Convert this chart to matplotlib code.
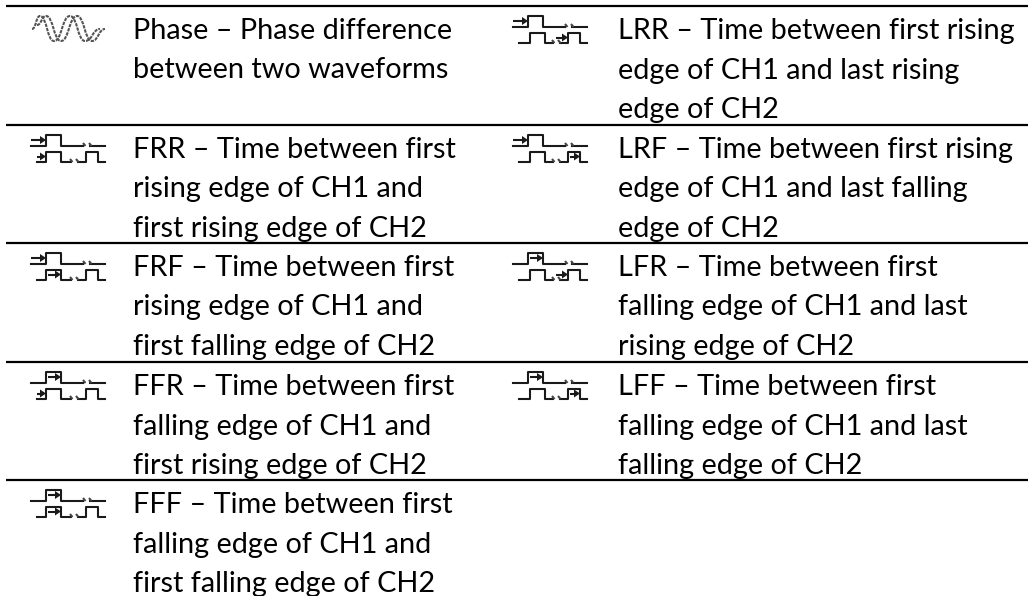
import matplotlib
matplotlib.use("Agg")
import matplotlib.pyplot as plt
from matplotlib.patches import PathPatch, Polygon
from matplotlib.path import Path

# rows of the table, one list per column
venstre_navn = ["Phase", "FRR", "FRF", "FFR", "FFF"]
venstre_tekst = [
    ["Phase – Phase difference", "between two waveforms"],
    ["FRR – Time between first", "rising edge of CH1 and", "first rising edge of CH2"],
    ["FRF – Time between first", "rising edge of CH1 and", "first falling edge of CH2"],
    ["FFR – Time between first", "falling edge of CH1 and", "first rising edge of CH2"],
    ["FFF – Time between first", "falling edge of CH1 and", "first falling edge of CH2"],
]
hoyre_navn = ["LRR", "LRF", "LFR", "LFF"]
hoyre_tekst = [
    ["LRR – Time between first rising", "edge of CH1 and last rising", "edge of CH2"],
    ["LRF – Time between first rising", "edge of CH1 and last falling", "edge of CH2"],
    ["LFR – Time between first", "falling edge of CH1 and last", "rising edge of CH2"],
    ["LFF – Time between first", "falling edge of CH1 and last", "falling edge of CH2"],
]
rad_topp = [6, 125, 243, 362]
skille_y = [6, 125, 243, 362, 480]

FARGE = "#1a1a1a"
STR = 20.8
LW = 1.5

fig = plt.figure(figsize=(10.28, 5.96), dpi=100)
ax = fig.add_axes([0, 0, 1, 1])
ax.set_xlim(0, 1028)
ax.set_ylim(596, 0)
ax.axis("off")


def pil(x0, x1, y):
    # liten pil som peker mot en flanke
    ax.plot([x0, x1 - 3], [y, y], color=FARGE, lw=LW, solid_capstyle="butt")
    ax.add_patch(Polygon([(x1 - 6, y - 4), (x1, y), (x1 - 6, y + 4)], color=FARGE, lw=0))


def brudd(x, y):
    # to korte streker der signalet er brutt
    for dx in (0, 6):
        ax.plot([x + dx, x + dx + 2.5], [y - 2.5, y + 0.5], color="#444444", lw=LW, solid_capstyle="butt")


def ikon(x, y, navn):
    siste = navn[0] == "L"
    # CH1, ovre signal
    top = [(0, 11), (15, 11), (15, 0), (30, 0), (30, 11), (52, 11)]
    ax.plot([x + a for a, b in top], [y + b for a, b in top], color=FARGE, lw=LW)
    ax.plot([x + 59, x + 74], [y + 11, y + 11], color=FARGE, lw=LW)
    brudd(x + 52, y + 11)
    # CH2, nedre signal
    d = 2 if siste else 0
    x_start = 6
    bunn = [(x_start, 27), (15 + d, 27), (15 + d, 17), (30 + d, 17), (30 + d, 27), (40, 27)]
    ax.plot([x + a for a, b in bunn], [y + b for a, b in bunn], color=FARGE, lw=LW)
    bunn2 = [(47, 27), (55, 27), (55, 17), (67, 17), (67, 27), (74, 27)]
    ax.plot([x + a for a, b in bunn2], [y + b for a, b in bunn2], color=FARGE, lw=LW)
    brudd(x + 39, y + 27)
    # piler for kantene
    if navn[1] == "R":
        pil(x, x + 15, y + 5.5)
    else:
        pil(x + 17, x + 30, y + 5.5)
    if siste:
        if navn[2] == "R":
            pil(x + 43, x + 55, y + 22)
        else:
            pil(x + 57, x + 67, y + 22)
    else:
        if navn[2] == "R":
            pil(x + 6, x + 15, y + 22)
        else:
            pil(x + 17, x + 30, y + 22)


def bolge(ekstrem):
    # myk kurve gjennom topper og bunner
    v = [Path.MOVETO]
    p = [ekstrem[0]]
    for (x0, y0), (x1, y1) in zip(ekstrem, ekstrem[1:]):
        m = (x0 + x1) / 2
        p += [(m, y0), (m, y1), (x1, y1)]
        v += [Path.CURVE4] * 3
    ax.add_patch(PathPatch(Path(p, v), fill=False, edgecolor="#555555", lw=1.5, linestyle=(0, (1.6, 0.5))))


bolge([(32, 29), (40, 16), (54, 41), (70, 16), (85, 41), (100, 29)])
bolge([(37, 25), (46, 16), (61, 41), (77, 16), (92, 41), (105, 29)])

for y in skille_y:
    ax.plot([6, 1028], [y, y], color="black", lw=1.6, solid_capstyle="butt")


def kolonne(navn, tekst, x_ikon, x_tekst, topper):
    for n, linjer, topp in zip(navn, tekst, topper):
        if n != "Phase":
            ikon(x_ikon, topp + 9.5, n)
        for i, linje in enumerate(linjer):
            ax.text(x_tekst, topp + 33 + i * 39.5, linje, fontsize=STR, family="Lato",
                    color="black", va="baseline", ha="left")


kolonne(venstre_navn, venstre_tekst, 31, 133, rad_topp + [480])
kolonne(hoyre_navn, hoyre_tekst, 513, 618, rad_topp)

fig.savefig("out.png", dpi=100, facecolor="white")
